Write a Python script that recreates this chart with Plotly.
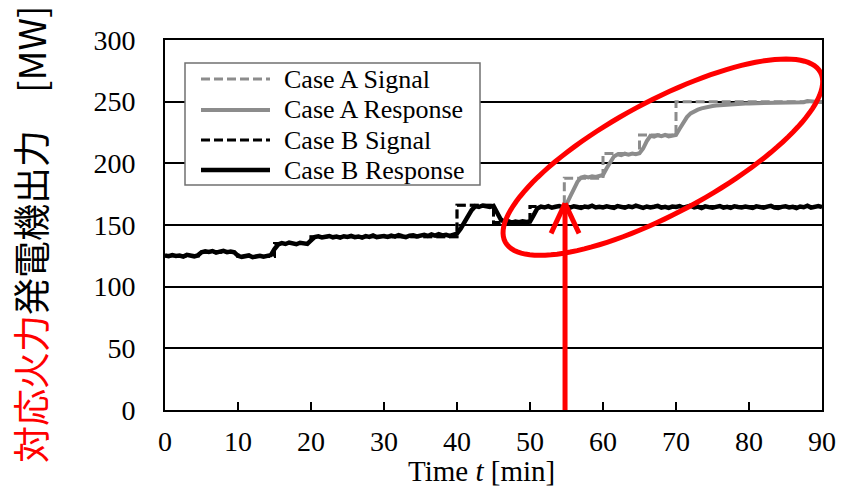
import numpy as np
import plotly.graph_objects as go

# ---------------- data ----------------
# Time grid for measured responses (min), 0.5 min resolution
t_b = [i * 0.5 for i in range(181)]
resp_b = [
    125.3, 124.7, 125.6, 124.9, 125.2, 124.4, 125.8, 125.0, 124.6, 125.4,
    127.9, 128.6, 128.1, 128.9, 127.6, 128.4, 129.1, 128.0, 128.5, 127.8,
    125.0, 124.2, 124.8, 125.3, 123.9, 124.6, 125.1, 124.3, 124.9, 125.6,
    130.5, 134.2, 135.3, 134.6, 135.8, 135.0, 134.4, 135.6, 135.1, 134.7,
    137.5, 140.2, 140.8, 139.9, 140.5, 141.1, 140.0, 140.6, 139.7, 140.9,
    140.3, 141.2, 140.1, 140.7, 139.8, 141.0, 140.4, 141.5, 140.2, 140.8,
    141.0, 140.3, 141.4, 140.6, 141.8, 140.9, 140.2, 141.3, 141.7, 140.8,
    141.5, 142.0, 141.1, 142.3, 141.4, 142.6, 141.6, 142.1, 141.2, 142.4,
    143.0, 147.0, 152.0, 157.5, 162.0, 165.3, 164.6, 165.8, 165.1, 164.7,
    165.5, 160.0, 154.5, 152.4, 153.1, 151.9, 152.7, 152.2, 153.0, 152.5,
    152.8, 158.0, 163.5, 164.9, 164.2, 165.3, 164.0, 164.8, 165.4, 164.3,
    164.9, 164.1, 165.2, 164.6, 163.8, 165.0, 164.5, 165.6, 164.2, 164.8,
    164.3, 165.1, 164.7, 163.9, 165.4, 164.6, 164.0, 165.2, 164.4, 165.7,
    164.5, 163.9, 165.0, 164.3, 164.8, 165.5, 164.1, 164.7, 163.8, 164.9,
    164.6, 165.3, 164.0, 164.8, 165.6, 164.2, 164.9, 163.7, 165.1, 164.5,
    164.0, 164.7, 165.4, 164.1, 164.8, 163.9, 165.2, 164.6, 164.3, 165.0,
    164.4, 163.8, 165.1, 164.5, 164.0, 164.9, 165.5, 164.2, 163.9, 164.7,
    165.2, 164.3, 164.8, 163.8, 165.0, 164.4, 165.6, 164.1, 164.7, 165.3,
    164.6,
]

t_a = [54.5 + i * 0.5 for i in range(72)]
resp_a = [
    164.5,
    167.0, 173.0, 179.0, 185.0, 188.5, 189.3, 188.6, 189.5, 188.9, 189.4,
    190.5, 196.0, 201.0, 205.5, 207.3, 206.6, 207.8, 207.1, 208.0, 207.4,
    208.2, 212.0, 218.0, 222.3, 221.6, 222.8, 222.1, 223.0, 221.8, 222.5,
    223.0, 228.0, 233.0, 237.5, 240.5, 242.3, 243.5, 244.6, 245.4, 246.0,
    246.5, 246.9, 247.2, 247.5, 247.7, 247.9, 248.1, 248.2, 248.4, 248.5,
    248.6, 248.7, 248.8, 248.9, 249.0, 249.0, 249.1, 249.2, 249.2, 249.3,
    249.3, 249.4, 249.4, 249.5, 249.5, 249.6, 250.6, 250.2, 249.7, 249.8,
    249.8,
]

# Step command signals (time of change, new value)
sig_a_t = [0, 5, 10, 15, 20, 40, 45, 50, 54.7, 60, 65, 70, 90]
sig_a_v = [125, 128, 124.5, 135, 140.5, 166, 152, 165, 188, 208, 223, 250, 250]
sig_b_t = [0, 5, 10, 15, 20, 40, 45, 50, 90]
sig_b_v = [125, 128, 124.5, 135, 140.5, 166, 152, 165, 165]

series_names = ["Case A Signal", "Case A Response", "Case B Signal", "Case B Response"]

x_ticks = [0, 10, 20, 30, 40, 50, 60, 70, 80, 90]
y_ticks = [0, 50, 100, 150, 200, 250, 300]

# annotation geometry (data units)
arrow_t = 54.8
arrow_tip = 167.5
ell_cx, ell_cy = 68.2, 205.0

GREY = "#8c8c8c"
SERIF = "Liberation Serif"
styles = [
    dict(color=GREY, width=3, dash="9px,4px"),
    dict(color=GREY, width=4),
    dict(color="black", width=3, dash="9px,4px"),
    dict(color="black", width=4.5),
]

fig = go.Figure()
fig.add_trace(go.Scatter(x=sig_a_t, y=sig_a_v, mode="lines", name=series_names[0],
                         line=dict(**styles[0], shape="hv"), showlegend=False))
fig.add_trace(go.Scatter(x=t_a, y=resp_a, mode="lines", name=series_names[1],
                         line=styles[1], showlegend=False))
fig.add_trace(go.Scatter(x=sig_b_t, y=sig_b_v, mode="lines", name=series_names[2],
                         line=dict(**styles[2], shape="hv"), showlegend=False))
fig.add_trace(go.Scatter(x=t_b, y=resp_b, mode="lines", name=series_names[3],
                         line=styles[3], showlegend=False))

# plot area geometry
L, R, T, B = 165, 22, 40, 79
W, H = 844, 489
PW, PH = W - L - R, H - T - B
kx = PW / 90.0
ky = PH / 300.0


def px(x):
    return (x - L) / PW


def py(y):
    return (H - B - y) / PH


a_px, b_px, th = 179.0, 56.0, np.deg2rad(28.3)
phi = np.linspace(0, 2 * np.pi, 121)
ex = ell_cx + (a_px * np.cos(phi) * np.cos(th) - b_px * np.sin(phi) * np.sin(th)) / kx
ey = ell_cy + (a_px * np.cos(phi) * np.sin(th) + b_px * np.sin(phi) * np.cos(th)) / ky
path = "M " + " L ".join(f"{x:.3f},{y:.3f}" for x, y in zip(ex, ey)) + " Z"

shapes = [
    dict(type="path", path=path, xref="x", yref="y",
         line=dict(color="red", width=5), layer="above"),
    dict(type="line", xref="x", yref="y", x0=arrow_t, x1=arrow_t, y0=0, y1=arrow_tip,
         line=dict(color="red", width=5), layer="above"),
    dict(type="line", xref="x", yref="y", x0=arrow_t, x1=arrow_t - 14 / kx,
         y0=arrow_tip, y1=arrow_tip - 30 / ky, line=dict(color="red", width=5), layer="above"),
    dict(type="line", xref="x", yref="y", x0=arrow_t, x1=arrow_t + 14 / kx,
         y0=arrow_tip, y1=arrow_tip - 30 / ky, line=dict(color="red", width=5), layer="above"),
]

annotations = [
    dict(text='<span style="color:red">対応火力</span>発電機出力\u3000[MW]',
         xref="paper", yref="paper", x=px(30), y=py(234),
         xanchor="center", yanchor="middle", textangle=-90, showarrow=False,
         font=dict(family="Noto Sans CJK JP", size=37, color="black")),
    dict(text="Time <i>t</i> [min]", xref="paper", yref="paper",
         x=px(481), y=py(471),
         xanchor="center", yanchor="middle", showarrow=False,
         font=dict(family=SERIF, size=29, color="black")),
]

# legend drawn as a box with samples and labels
shapes.append(dict(type="rect", xref="paper", yref="paper",
                   x0=px(185), x1=px(480), y0=py(185), y1=py(63),
                   line=dict(color="#707070", width=1.5), fillcolor="white", layer="above"))
row_y = [79, 110, 140, 170]
for name, st, ry in zip(series_names, styles, row_y):
    shapes.append(dict(type="line", xref="paper", yref="paper",
                       x0=px(201), x1=px(270), y0=py(ry), y1=py(ry),
                       line=st, layer="above"))
    annotations.append(dict(text=name, xref="paper", yref="paper", x=px(282), y=py(ry),
                            xanchor="left", yanchor="middle", showarrow=False,
                            font=dict(family=SERIF, size=26, color="black")))

fig.update_layout(
    width=W, height=H,
    margin=dict(l=L, r=R, t=T, b=B, pad=0),
    paper_bgcolor="white", plot_bgcolor="white",
    showlegend=False,
    shapes=shapes, annotations=annotations,
    xaxis=dict(range=[0, 90], tickvals=x_ticks, ticktext=[str(v) for v in x_ticks],
               showgrid=False, zeroline=False, showline=True, linecolor="black", linewidth=2,
               mirror=True, ticks="inside", ticklen=8, tickwidth=2, tickcolor="black",
               ticklabelstandoff=5,
               tickfont=dict(family=SERIF, size=28, color="black"), automargin=False),
    yaxis=dict(range=[0, 300], tickvals=y_ticks, ticktext=[str(v) for v in y_ticks],
               showgrid=True, gridcolor="black", gridwidth=1.5, zeroline=False,
               showline=True, linecolor="black", linewidth=2, mirror=True, ticks="",
               ticklabelstandoff=22,
               tickfont=dict(family=SERIF, size=28, color="black"), automargin=False),
)

fig.write_html("out.html")
